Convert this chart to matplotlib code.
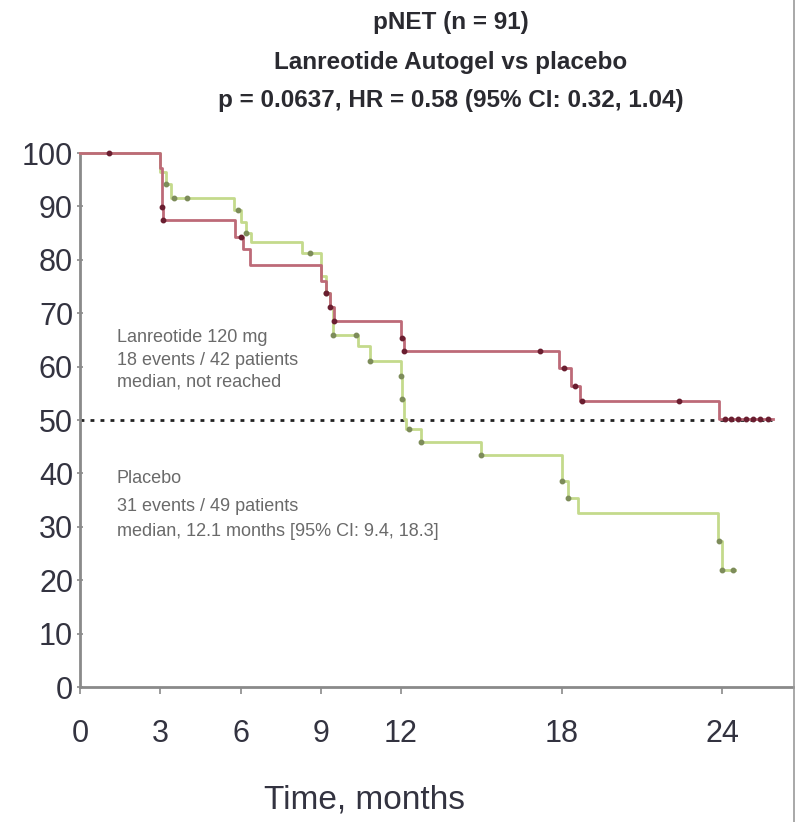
#!/usr/bin/env python3
"""Kaplan-Meier style chart: pNET subgroup, lanreotide autogel vs placebo."""

import matplotlib
matplotlib.use("Agg")
import matplotlib.pyplot as plt
import numpy as np
from matplotlib.lines import Line2D

# Lanreotide 120 mg curve (months, % event-free)
LAN_TIMES = [0, 3.0, 3.05, 3.1, 5.8, 6.1, 6.35, 9.0, 9.2, 9.35, 9.5, 12.0, 12.1, 17.9, 18.35, 18.7, 23.9]
LAN_SURV = [100, 97.2, 89.8, 87.5, 84.2, 82.1, 79.0, 76.0, 73.8, 71.2, 68.6, 65.4, 62.9, 59.8, 56.4, 53.6, 50.2]
LAN_END = 25.9
LAN_CENSOR = [1.1, 3.05, 3.1, 6.0, 9.2, 9.35, 9.5, 12.05, 12.1, 17.2, 18.1, 18.5, 18.75,
              22.4, 24.1, 24.35, 24.6, 24.9, 25.15, 25.4, 25.7]

# Placebo curve
PLA_TIMES = [0, 3.0, 3.2, 3.4, 5.75, 6.0, 6.2, 6.4, 8.3, 9.0, 9.2, 9.35, 9.45, 10.4, 10.85,
             12.0, 12.05, 12.1, 12.2, 12.75, 15.0, 18.0, 18.25, 18.6, 23.85, 24.0]
PLA_SURV = [100, 96.5, 94.2, 91.6, 89.3, 87.0, 85.0, 83.3, 81.2, 77.0, 73.8, 71.2, 66.0, 63.8, 61.0,
            58.2, 53.9, 50.2, 48.3, 45.9, 43.5, 38.5, 35.3, 32.5, 27.3, 21.9]
PLA_END = 24.5
PLA_CENSOR = [3.2, 3.5, 4.0, 5.9, 6.2, 8.6, 9.2, 9.45, 10.3, 10.85, 12.0, 12.05, 12.3, 12.75,
              15.0, 18.0, 18.25, 23.9, 24.0, 24.4]

X_TICKS = [0, 3, 6, 9, 12, 18, 24]
Y_TICKS = [0, 10, 20, 30, 40, 50, 60, 70, 80, 90, 100]

TITLE_LINES = [
    "pNET (n = 91)",
    "Lanreotide Autogel vs placebo",
    "p = 0.0637, HR = 0.58 (95% CI: 0.32, 1.04)",
]
LAN_TEXT = ["Lanreotide 120 mg", "18 events / 42 patients", "median, not reached"]
PLA_TEXT = ["Placebo", "31 events / 49 patients", "median, 12.1 months [95% CI: 9.4, 18.3]"]

RED = "#bd6a78"
RED_MARK = "#6a1e30"
GREEN = "#c4da8c"
GREEN_MARK = "#7d8c5a"

plt.rcParams["font.family"] = ["Liberation Sans", "DejaVu Sans"]


def step_value(times, surv, t):
    idx = np.searchsorted(np.asarray(times), t, side="right") - 1
    return np.asarray(surv)[idx]


def draw_curve(ax, times, surv, end, censor, color, mark_color, lw):
    xs = list(times) + [end]
    ys = list(surv) + [surv[-1]]
    ax.step(xs, ys, where="post", color=color, linewidth=lw, clip_on=False, zorder=3)
    cy = [step_value(times, surv, t) for t in censor]
    ax.plot(censor, cy, linestyle="none", marker="o", markersize=3.2,
            color=mark_color, clip_on=False, zorder=4)


def main():
    fig = plt.figure(figsize=(7.96, 8.22), dpi=100)
    ax = fig.add_axes([80 / 796, 1 - 687 / 822, (793 - 80) / 796, (687 - 153) / 822])

    ax.set_xlim(0, 26.65)
    ax.set_ylim(0, 100)

    # median reference line
    ax.plot([0, 25.85], [50, 50], color="#222222", linewidth=2.0,
            linestyle=(0, (1.4, 2.2)), zorder=2)

    draw_curve(ax, PLA_TIMES, PLA_SURV, PLA_END, PLA_CENSOR, GREEN, GREEN_MARK, 2.0)
    draw_curve(ax, LAN_TIMES, LAN_SURV, LAN_END, LAN_CENSOR, RED, RED_MARK, 2.0)

    for side in ["top", "right"]:
        ax.spines[side].set_visible(False)
    for side in ["left", "bottom"]:
        ax.spines[side].set_color("#8a8a8a")
        ax.spines[side].set_linewidth(2.0)

    ax.set_xticks(X_TICKS)
    ax.set_yticks(Y_TICKS)
    ax.tick_params(axis="x", direction="out", length=5, width=1.2, color="#8a8a8a",
                   labelsize=22, labelcolor="#333340", pad=18)
    ax.tick_params(axis="y", direction="inout", length=4, width=1.2, color="#8a8a8a",
                   labelsize=22, labelcolor="#333340", pad=3)

    fig.text(365 / 796, 1 - 800 / 822, "Time, months", ha="center", va="center",
             fontsize=24, color="#333340")

    title_y = [23, 62, 100]
    for line, y in zip(TITLE_LINES, title_y):
        fig.text(451 / 796, 1 - y / 822, line, ha="center", va="center",
                 fontsize=17.5, fontweight="bold", color="#2a2a30")

    for line, y in zip(LAN_TEXT, [337, 360, 382]):
        fig.text(117 / 796, 1 - y / 822, line, ha="left", va="center",
                 fontsize=13, color="#6a6a6a")
    for line, y in zip(PLA_TEXT, [478, 506, 532]):
        fig.text(117 / 796, 1 - y / 822, line, ha="left", va="center",
                 fontsize=13, color="#6a6a6a")

    # thin frame edge on the right side of the slide capture
    fig.add_artist(Line2D([0.9975, 0.9975], [0, 1], color="#9a9a9a", linewidth=1.2))

    fig.savefig("out.png", dpi=100, facecolor="white")
    plt.close(fig)


if __name__ == "__main__":
    main()
